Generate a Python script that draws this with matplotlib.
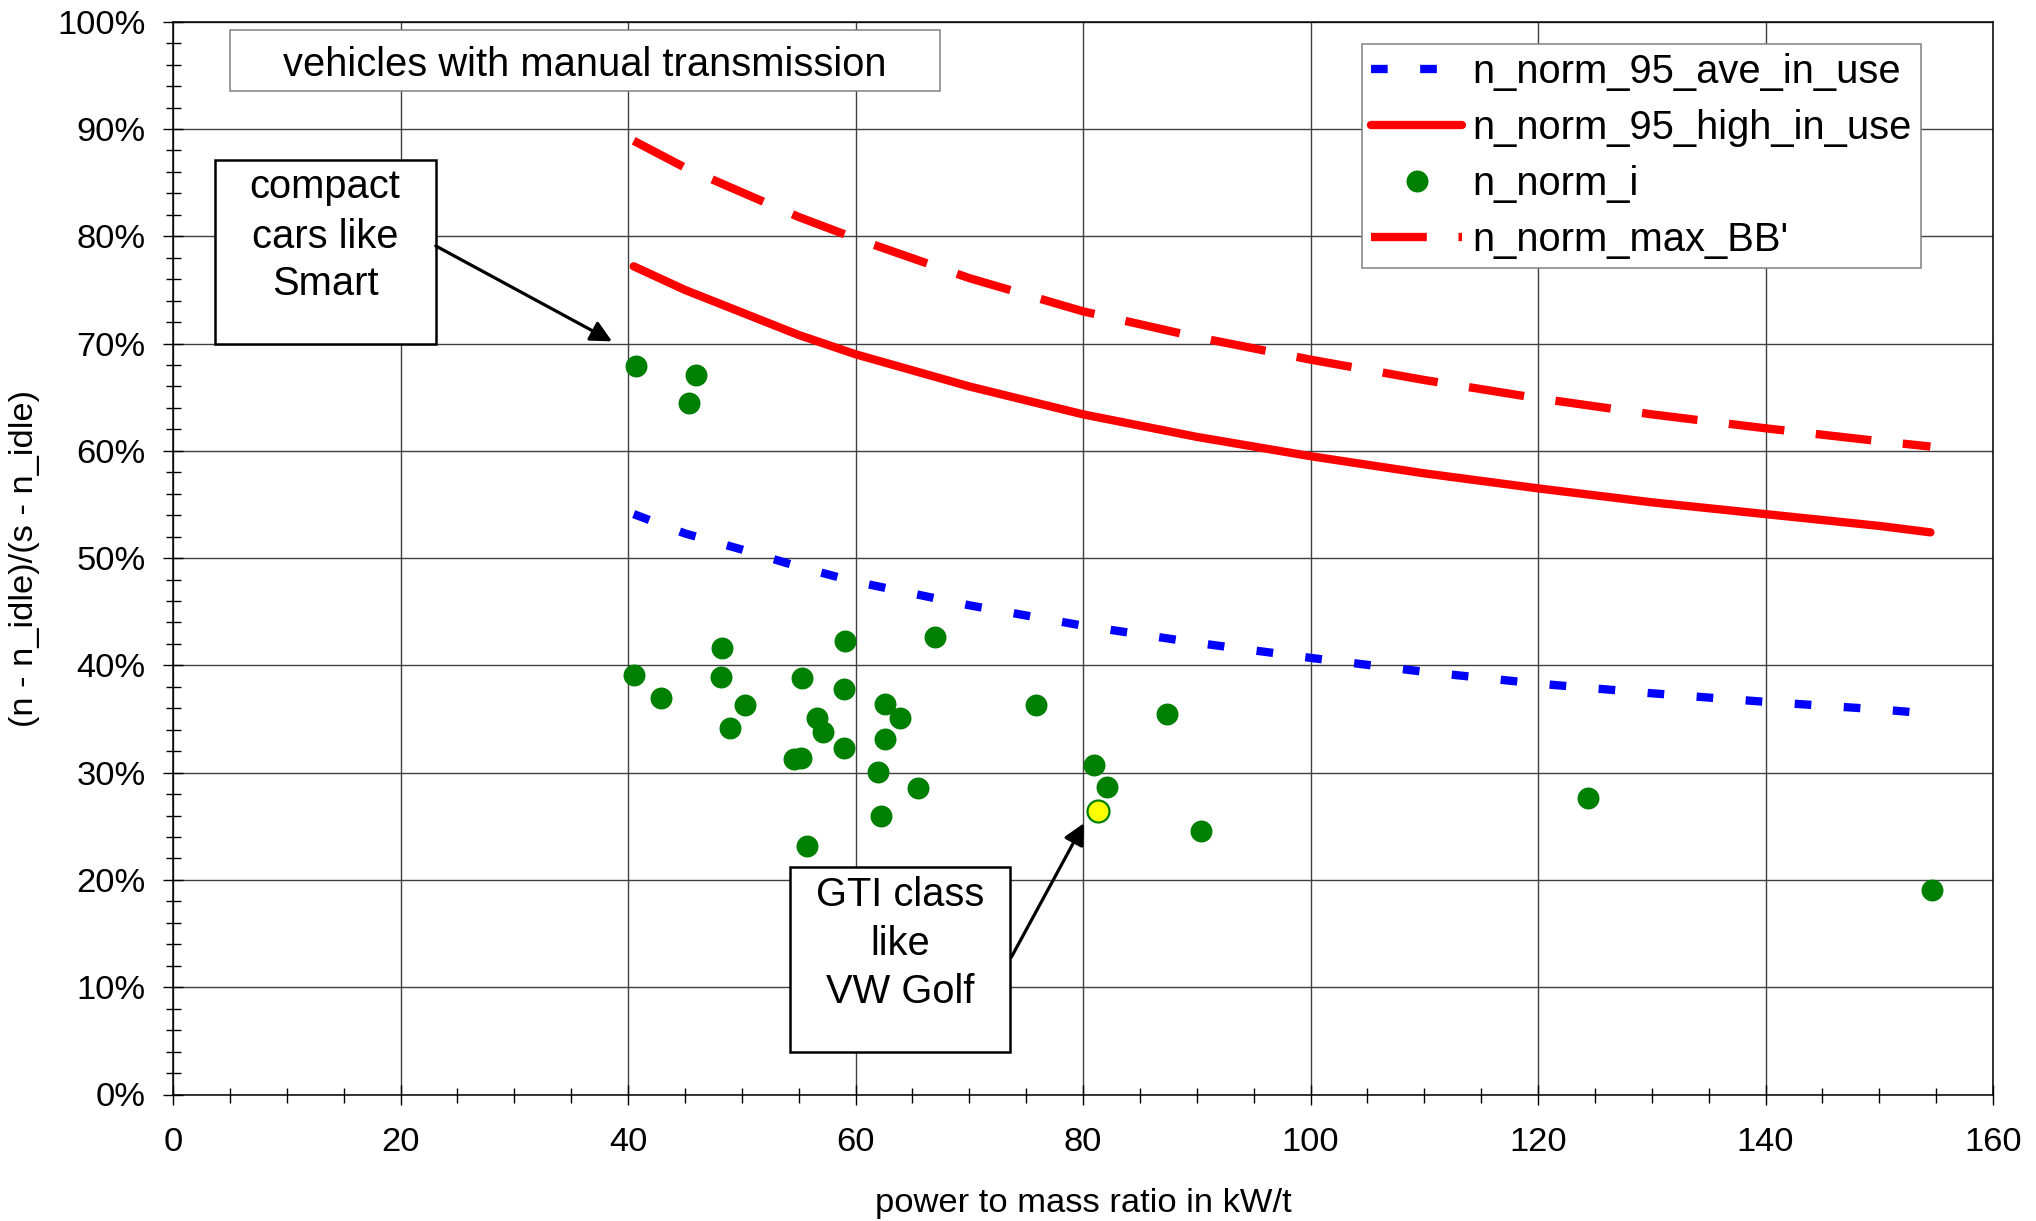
import matplotlib
matplotlib.use('Agg')
import matplotlib.pyplot as plt
from matplotlib.patches import Rectangle
from matplotlib.ticker import MultipleLocator, FixedLocator, FixedFormatter

plt.rcParams['font.family'] = ['Liberation Sans', 'DejaVu Sans']

# ---------------- data ----------------
pmr_i = [40.7, 46.0, 45.4,
         40.5, 42.9, 48.3, 48.2, 49.0, 50.3,
         55.3, 59.1, 59.0, 67.0, 56.6, 57.1,
         54.6, 55.2, 58.95, 62.6, 63.9, 62.6,
         62.0, 65.5, 62.2, 55.7, 75.9, 81.0,
         82.1, 87.4, 90.4, 124.4, 154.6]
n_norm_i = [67.9, 67.1, 64.5,
            39.1, 37.0, 41.6, 38.9, 34.2, 36.3,
            38.8, 42.3, 37.8, 42.6, 35.1, 33.8,
            31.3, 31.4, 32.3, 36.4, 35.1, 33.1,
            30.1, 28.6, 26.0, 23.2, 36.3, 30.7,
            28.7, 35.5, 24.6, 27.6, 19.1]
gti_pmr = [81.3]
gti_n_norm = [26.4]

line_pmr = [40.5, 45, 50, 55, 60, 70, 80, 90, 100, 110, 120, 130, 140, 150, 154.5]
n_norm_95_ave_in_use = [54.1, 52.3, 50.8, 49.2, 47.8, 45.6, 43.7, 42.1, 40.7,
                        39.4, 38.3, 37.4, 36.6, 35.9, 35.5]
n_norm_95_high_in_use = [77.2, 75.0, 72.9, 70.8, 69.0, 66.0, 63.4, 61.3, 59.5,
                         57.9, 56.5, 55.2, 54.1, 53.0, 52.4]
n_norm_max_BB = [88.9, 86.4, 84.1, 81.8, 79.8, 76.1, 73.0, 70.6, 68.5,
                 66.6, 64.9, 63.4, 62.1, 60.9, 60.4]

x_ticks = [0, 20, 40, 60, 80, 100, 120, 140, 160]
y_ticks = [0, 10, 20, 30, 40, 50, 60, 70, 80, 90, 100]
y_tick_labels = [f'{v}%' for v in y_ticks]

# ---------------- figure ----------------
fig = plt.figure(figsize=(20.36, 12.21), dpi=100)
ax = fig.add_axes([173 / 2036, 1 - 1094.5 / 1221, (1993 - 173) / 2036, (1094.5 - 21.7) / 1221])

ax.set_xlim(0, 160)
ax.set_ylim(0, 100)
ax.xaxis.set_major_locator(FixedLocator(x_ticks))
ax.xaxis.set_minor_locator(MultipleLocator(5))
ax.yaxis.set_major_locator(FixedLocator(y_ticks))
ax.yaxis.set_major_formatter(FixedFormatter(y_tick_labels))
ax.yaxis.set_minor_locator(MultipleLocator(2))

ax.grid(True, which='major', color='#404040', lw=1.0)
ax.set_axisbelow(True)
for s in ax.spines.values():
    s.set_linewidth(1.1)
    s.set_color('black')

ax.tick_params(which='major', direction='inout', length=14.4, width=1.0, labelsize=24.8)
ax.tick_params(which='minor', direction='inout', length=10.8, width=1.0)
ax.tick_params(axis='x', which='major', pad=16.5)
ax.tick_params(axis='y', which='major', pad=12.5)

ax.set_xlabel('power to mass ratio in kW/t', fontsize=24.8, labelpad=21)
ax.set_ylabel('(n - n_idle)/(s - n_idle)', fontsize=24.8, labelpad=12.5)

lw = 6.0
l_ave, = ax.plot(line_pmr, n_norm_95_ave_in_use, color='#0000FF', lw=lw,
                 dashes=(2.0, 3.9), dash_capstyle='butt', zorder=3)
l_high, = ax.plot(line_pmr, n_norm_95_high_in_use, color='#FF0000', lw=lw,
                  solid_capstyle='round', zorder=3)
l_max, = ax.plot(line_pmr, n_norm_max_BB, color='#FF0000', lw=lw,
                 dashes=(6.7, 3.8), dash_capstyle='butt', zorder=3)
pts, = ax.plot(pmr_i, n_norm_i, 'o', color='#008000', markersize=15.8,
               markeredgewidth=0, zorder=5)
ax.plot(gti_pmr, gti_n_norm, 'o', markerfacecolor='#FFFF00', markeredgecolor='#008000',
        markersize=15.8, markeredgewidth=1.6, zorder=6)

# ---------------- annotation boxes ----------------
txt_size = 28.7
ax.add_patch(Rectangle((5.0, 93.5), 62.4, 5.7, facecolor='white', edgecolor='#808080',
                       lw=1.1, zorder=4))
ax.text(36.2, 94.9, 'vehicles with manual transmission', ha='center', va='baseline',
        fontsize=txt_size, zorder=5)

ax.add_patch(Rectangle((3.65, 70.0), 19.45, 17.1, facecolor='white', edgecolor='black',
                       lw=1.8, zorder=4))
for line, yb in zip(['compact', 'cars like', 'Smart'], [83.52, 78.92, 74.51]):
    ax.text(13.36, yb, line, ha='center', va='baseline', fontsize=txt_size, zorder=5)

ax.add_patch(Rectangle((54.2, 4.0), 19.4, 17.2, facecolor='white', edgecolor='black',
                       lw=1.8, zorder=4))
for line, yb in zip(['GTI class', 'like', 'VW Golf'], [17.57, 13.0, 8.5]):
    ax.text(63.9, yb, line, ha='center', va='baseline', fontsize=txt_size, zorder=5)

arrow_kw = dict(arrowstyle='-|>', lw=2.3, color='black', mutation_scale=32,
                shrinkA=0, shrinkB=0)
ax.annotate('', xy=(38.6, 70.2), xytext=(23.1, 79.1), arrowprops=arrow_kw, zorder=5)
ax.annotate('', xy=(80.1, 25.3), xytext=(73.7, 12.8), arrowprops=arrow_kw, zorder=5)

# ---------------- legend ----------------
handles = [l_ave, l_high, pts, l_max]
labels = ['n_norm_95_ave_in_use', 'n_norm_95_high_in_use', 'n_norm_i', "n_norm_max_BB'"]
leg = ax.legend(handles, labels, loc='upper left', bbox_to_anchor=(0.6535, 0.979),
                borderaxespad=0, fontsize=txt_size, handlelength=2.28, handletextpad=0.26,
                labelspacing=0.45, borderpad=0.22, fancybox=False, framealpha=1,
                edgecolor='#808080')
leg.get_frame().set_linewidth(1.1)
leg.set_zorder(10)

fig.savefig('out.png', dpi=100)
